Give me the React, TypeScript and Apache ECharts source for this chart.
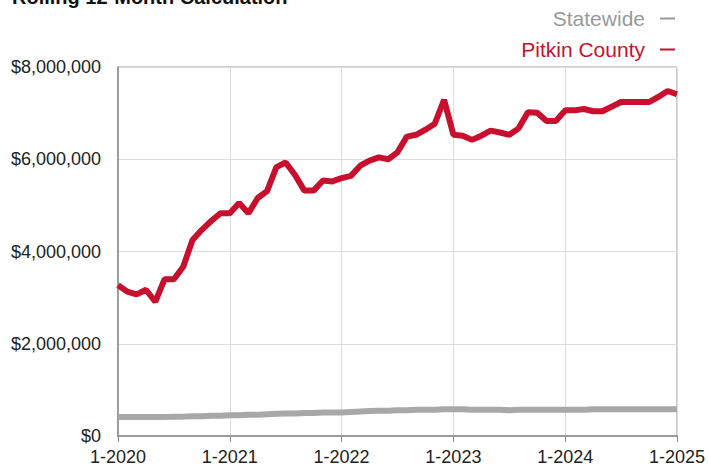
import React, { useEffect, useRef } from "react";
import * as echarts from "echarts";

const years = [2020, 2021, 2022, 2023, 2024, 2025];
const categories: string[] = [];
for (const y of years) {
  for (let m = 1; m <= 12; m++) {
    if (y === 2025 && m > 1) break;
    categories.push(`${m}-${y}`);
  }
}

const pitkin = [
  3270000, 3130000, 3070000, 3170000, 2910000, 3400000, 3400000, 3670000, 4250000, 4470000, 4660000, 4830000,
  4830000, 5050000, 4830000, 5160000, 5310000, 5830000, 5930000, 5660000, 5320000, 5320000, 5540000, 5520000,
  5590000, 5640000, 5860000, 5970000, 6040000, 6000000, 6150000, 6490000, 6530000, 6640000, 6770000, 7290000,
  6530000, 6510000, 6420000, 6510000, 6620000, 6580000, 6530000, 6670000, 7020000, 7010000, 6830000, 6830000,
  7060000, 7060000, 7090000, 7040000, 7040000, 7140000, 7240000, 7240000, 7240000, 7240000, 7350000, 7480000,
  7410000,
];

const statewide = [
  410000, 410000, 410000, 410000, 410000, 410000, 420000, 420000, 430000, 430000, 440000, 440000,
  450000, 450000, 460000, 460000, 470000, 480000, 490000, 490000, 500000, 500000, 510000, 510000,
  510000, 520000, 530000, 540000, 550000, 550000, 560000, 560000, 570000, 570000, 570000, 580000,
  580000, 580000, 570000, 570000, 570000, 570000, 560000, 570000, 570000, 570000, 570000, 570000,
  570000, 570000, 570000, 580000, 580000, 580000, 580000, 580000, 580000, 580000, 580000, 580000,
  580000,
];

const RED = "#c8102e";
const GRAY = "#a8a8a8";
const FONT = "'Liberation Sans', Arial, Helvetica, sans-serif";

export default function App() {
  const ref = useRef<HTMLDivElement>(null);
  useEffect(() => {
    if (!ref.current) return;
    const chart = echarts.init(ref.current, null, { renderer: "svg" });
    const yearTick = (idx: number) => idx % 12 === 0;
    chart.setOption({
      animation: false,
      backgroundColor: "#ffffff",
      textStyle: { fontFamily: FONT },
      graphic: [
        {
          type: "text",
          left: 12,
          top: -13,
          style: {
            text: "Rolling 12-Month Calculation",
            fontSize: 20,
            fontWeight: "bold",
            fontFamily: FONT,
            fill: "#111",
          },
        },
      ],
      legend: {
        orient: "vertical",
        right: 28,
        top: 3,
        align: "right",
        itemWidth: 15,
        itemHeight: 2,
        itemGap: 10,
        icon: "rect",
        selectedMode: false,
        textStyle: { fontSize: 21, fontFamily: FONT, padding: [0, 10, 0, 0] },
        data: [
          { name: "Statewide", textStyle: { color: "#999999" }, itemStyle: { color: "#999999" } },
          { name: "Pitkin County", textStyle: { color: RED }, itemStyle: { color: RED } },
        ],
      },
      grid: {
        left: 118,
        right: 28,
        top: 67,
        bottom: 30,
        show: true,
        borderColor: "#999",
        borderWidth: 1,
      },
      xAxis: {
        type: "category",
        data: categories,
        boundaryGap: false,
        axisLine: { lineStyle: { color: "#888", width: 1.5 } },
        axisTick: { show: true, interval: (i: number) => yearTick(i), length: 6, lineStyle: { color: "#888" } },
        axisLabel: {
          interval: (i: number) => yearTick(i),
          fontSize: 18,
          color: "#222",
          margin: 12,
          fontFamily: FONT,
        },
        splitLine: { show: true, interval: (i: number) => yearTick(i), lineStyle: { color: "#dddddd", width: 1 } },
      },
      yAxis: {
        type: "value",
        min: 0,
        max: 8000000,
        interval: 2000000,
        axisLine: { show: true, lineStyle: { color: "#888", width: 1.5 } },
        axisTick: { show: false },
        axisLabel: {
          fontSize: 18,
          color: "#222",
          margin: 17,
          fontFamily: FONT,
          formatter: (v: number) => "$" + v.toLocaleString("en-US"),
        },
        splitLine: { lineStyle: { color: "#dddddd", width: 1 } },
      },
      series: [
        {
          name: "Statewide",
          type: "line",
          data: statewide,
          showSymbol: false,
          symbol: "none",
          lineStyle: { color: GRAY, width: 6 },
          itemStyle: { color: "#999999" },
          z: 2,
        },
        {
          name: "Pitkin County",
          type: "line",
          data: pitkin,
          showSymbol: false,
          symbol: "none",
          lineStyle: { color: RED, width: 6 },
          itemStyle: { color: RED },
          z: 3,
        },
      ],
    });
    return () => chart.dispose();
  }, []);
  return (
    <div
      ref={ref}
      style={{ position: "absolute", left: 0, top: 0, width: 708, height: 466 }}
    />
  );
}
